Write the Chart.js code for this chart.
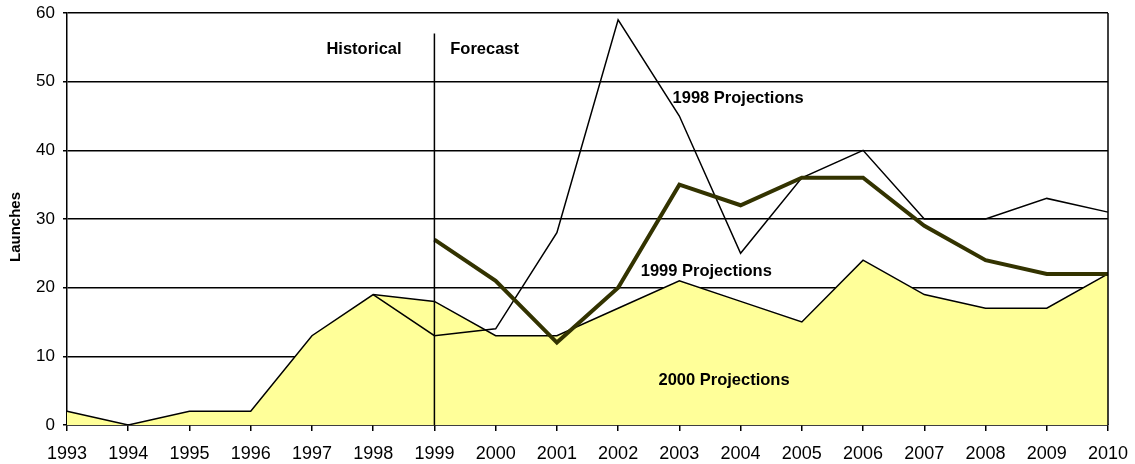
<!DOCTYPE html>
<html>
<head>
<meta charset="utf-8">
<script src="https://cdn.jsdelivr.net/npm/chart.js@4/dist/chart.umd.min.js"></script>
<style>
  html, body { margin: 0; padding: 0; background: #fff; }
  #wrap { width: 1135px; height: 464px; position: relative; }
</style>
</head>
<body>
<div id="wrap"><canvas id="launchChart"></canvas></div>
<script>
const years = ['1993', '1994', '1995', '1996', '1997', '1998', '1999', '2000', '2001',
    '2002', '2003', '2004', '2005', '2006', '2007', '2008', '2009', '2010'];
const proj2000 = [2, 0, 2, 2, 13, 19, 18, 13, 13, 17, 21, 18, 15, 24, 19, 17, 17, 22];
const proj1998 = [null, null, null, null, null, 19, 13, 14, 28, 59, 45, 25, 36, 40, 30, 30, 33, 31];
const proj1999 = [null, null, null, null, null, null, 27, 21, 12, 20, 35, 32, 36, 36, 29, 24, 22, 22];
const yTicks = [0, 10, 20, 30, 40, 50, 60];

// text notes placed in data units (x = category index, y = launches)
const notes = [
    { text: 'Historical', x: 4.85, y: 54.7 },
    { text: 'Forecast', x: 6.82, y: 54.7 },
    { text: '1998 Projections', x: 10.96, y: 47.6 },
    { text: '1999 Projections', x: 10.44, y: 22.4 },
    { text: '2000 Projections', x: 10.73, y: 6.55 },
];
const splitIndex = 6;   // 1999, start of forecast
const splitTop = 57;
const FONT = "'Liberation Sans', Arial, sans-serif";

const overlay = {
    id: 'overlay',
    afterDatasetsDraw(chart) {
        const { ctx, chartArea, scales: { x, y } } = chart;
        ctx.save();
        ctx.strokeStyle = '#000';
        ctx.lineWidth = 1.5;
        ctx.beginPath();
        const sx = x.getPixelForValue(splitIndex);
        ctx.moveTo(sx, y.getPixelForValue(splitTop));
        ctx.lineTo(sx, y.getPixelForValue(0));
        ctx.stroke();
        ctx.beginPath();
        ctx.moveTo(chartArea.right, chartArea.top);
        ctx.lineTo(chartArea.right, chartArea.bottom);
        ctx.stroke();
        ctx.fillStyle = '#000';
        ctx.font = 'bold 16.5px ' + FONT;
        ctx.textAlign = 'center';
        ctx.textBaseline = 'middle';
        notes.forEach(n => ctx.fillText(n.text, x.getPixelForValue(n.x), y.getPixelForValue(n.y)));
        // axis title
        ctx.font = 'bold 15px ' + FONT;
        ctx.translate(16, 227);
        ctx.rotate(-Math.PI / 2);
        ctx.fillText('Launches', 0, 0);
        ctx.restore();
    }
};

const ctx = document.getElementById('launchChart').getContext('2d');
new Chart(ctx, {
    type: 'line',
    data: {
        labels: years,
        datasets: [
            {
                label: '1999 Projections',
                data: proj1999,
                borderColor: '#333300',
                borderWidth: 4,
                pointRadius: 0,
                fill: false,
                order: 1,
            },
            {
                label: '1998 Projections',
                data: proj1998,
                borderColor: '#000',
                borderWidth: 1.5,
                pointRadius: 0,
                fill: false,
                order: 2,
            },
            {
                label: '2000 Projections',
                data: proj2000,
                borderColor: '#000',
                borderWidth: 1.5,
                backgroundColor: '#FFFF99',
                pointRadius: 0,
                fill: 'origin',
                order: 3,
            },
        ]
    },
    options: {
        responsive: true,
        maintainAspectRatio: false,
        animation: false,
        layout: { padding: { left: 0, top: 13, right: 27, bottom: 0 } },
        plugins: { legend: { display: false }, tooltip: { enabled: false } },
        elements: { line: { tension: 0 } },
        scales: {
            x: {
                offset: false,
                afterFit: s => { s.height = 39; s.paddingLeft = 0; s.paddingRight = 0; },
                grid: { drawOnChartArea: false, drawTicks: true, tickLength: 6, color: '#000', lineWidth: 1.5 },
                border: { color: '#000', width: 1.5 },
                ticks: {
                    color: '#000', padding: 12, maxRotation: 0, autoSkip: false,
                    font: { family: FONT, size: 18 }
                }
            },
            y: {
                min: 0, max: 60,
                afterFit: s => { s.width = 67; s.paddingTop = 0; s.paddingBottom = 0; },
                afterBuildTicks: s => { s.ticks = yTicks.map(v => ({ value: v })); },
                grid: { color: '#000', lineWidth: 1.5, tickLength: 4 },
                border: { color: '#000', width: 1.5 },
                ticks: {
                    color: '#000', padding: 8,
                    font: { family: FONT, size: 17 }
                }
            }
        }
    },
    plugins: [overlay]
});
</script>
</body>
</html>
